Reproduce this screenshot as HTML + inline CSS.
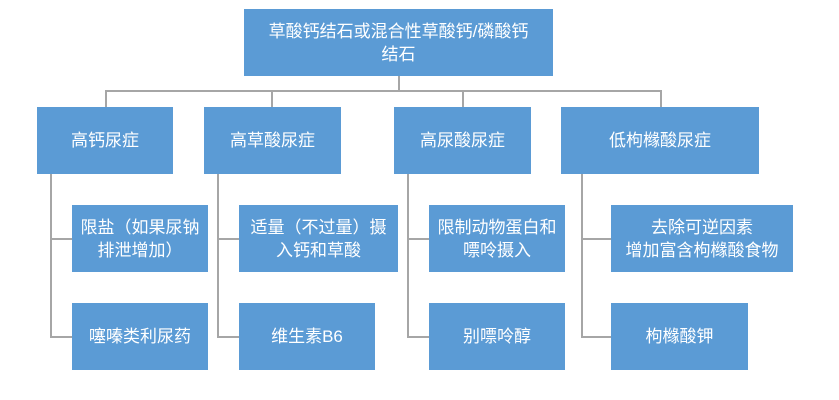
<!DOCTYPE html>
<html><head><meta charset="utf-8"><style>
body{margin:0;width:839px;height:400px;background:#fff;position:relative;overflow:hidden;font-family:"Liberation Sans","Noto Sans CJK SC",sans-serif}
.b{position:absolute;background:#5b9bd5;color:#fff;display:flex;align-items:center;justify-content:center;text-align:center;font-size:17px;line-height:23px;box-sizing:border-box;padding:0 1px}
.l{position:absolute;background:#a6a6a6}
</style></head><body>
<div class="l" style="left:398px;top:76px;width:2px;height:15px"></div>
<div class="l" style="left:105px;top:90px;width:557px;height:2px"></div>
<div class="l" style="left:105px;top:90px;width:2px;height:17px"></div>
<div class="l" style="left:271px;top:90px;width:2px;height:17px"></div>
<div class="l" style="left:462px;top:90px;width:2px;height:17px"></div>
<div class="l" style="left:660px;top:90px;width:2px;height:17px"></div>

<div class="l" style="left:50px;top:174px;width:2px;height:164px"></div>
<div class="l" style="left:50px;top:238px;width:22px;height:2px"></div>
<div class="l" style="left:50px;top:336px;width:22px;height:2px"></div>
<div class="l" style="left:217px;top:174px;width:2px;height:164px"></div>
<div class="l" style="left:217px;top:238px;width:22px;height:2px"></div>
<div class="l" style="left:217px;top:336px;width:22px;height:2px"></div>
<div class="l" style="left:407px;top:174px;width:2px;height:164px"></div>
<div class="l" style="left:407px;top:238px;width:22px;height:2px"></div>
<div class="l" style="left:407px;top:336px;width:22px;height:2px"></div>
<div class="l" style="left:581px;top:174px;width:2px;height:164px"></div>
<div class="l" style="left:581px;top:238px;width:30px;height:2px"></div>
<div class="l" style="left:581px;top:336px;width:30px;height:2px"></div>

<div class="b" style="left:244px;top:9px;width:309px;height:67px">草酸钙结石或混合性草酸钙/磷酸钙<br>结石</div>
<div class="b" style="left:37px;top:107px;width:136px;height:67px">高钙尿症</div>
<div class="b" style="left:204px;top:107px;width:137px;height:67px">高草酸尿症</div>
<div class="b" style="left:394px;top:107px;width:137px;height:67px">高尿酸尿症</div>
<div class="b" style="left:561px;top:107px;width:198px;height:67px">低枸橼酸尿症</div>

<div class="b" style="left:72px;top:205px;width:136px;height:67px">限盐（如果尿钠<br>排泄增加）</div>
<div class="b" style="left:72px;top:303px;width:136px;height:67px">噻嗪类利尿药</div>
<div class="b" style="left:239px;top:205px;width:159px;height:67px">适量（不过量）摄<br>入钙和草酸</div>
<div class="b" style="left:239px;top:303px;width:136px;height:67px">维生素B6</div>
<div class="b" style="left:429px;top:205px;width:136px;height:67px">限制动物蛋白和<br>嘌呤摄入</div>
<div class="b" style="left:429px;top:303px;width:136px;height:67px">别嘌呤醇</div>
<div class="b" style="left:611px;top:205px;width:182px;height:67px">去除可逆因素<br>增加富含枸橼酸食物</div>
<div class="b" style="left:611px;top:303px;width:137px;height:67px">枸橼酸钾</div>
</body></html>
